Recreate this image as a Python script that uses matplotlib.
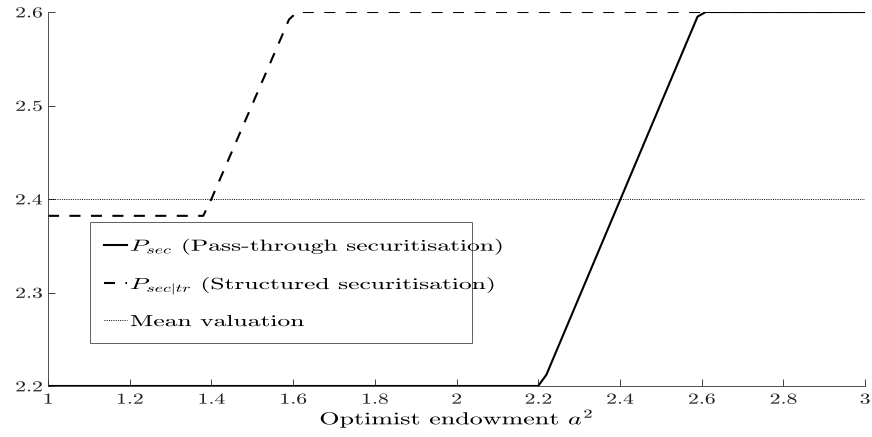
import matplotlib
matplotlib.use('Agg')
import matplotlib.pyplot as plt
from matplotlib.patheffects import AbstractPathEffect
from matplotlib.transforms import Affine2D

a2_pass = [1.0, 2.2, 2.22, 2.59, 2.61, 3.0]
p_pass = [2.2, 2.2, 2.212, 2.595, 2.6, 2.6]

a2_struct = [1.0, 1.38, 1.40, 1.59, 1.61, 3.0]
p_struct = [2.382, 2.382, 2.40, 2.592, 2.6, 2.6]

mean_val = 2.4

xticks = [1, 1.2, 1.4, 1.6, 1.8, 2, 2.2, 2.4, 2.6, 2.8, 3]
xticklabels = ['1', '1.2', '1.4', '1.6', '1.8', '2', '2.2', '2.4', '2.6', '2.8', '3']
yticks = [2.2, 2.3, 2.4, 2.5, 2.6]
yticklabels = ['2.2', '2.3', '2.4', '2.5', '2.6']

plt.rcParams['font.family'] = ['cmr10', 'DejaVu Serif']
plt.rcParams['mathtext.fontset'] = 'cm'
plt.rcParams['axes.formatter.use_mathtext'] = True


class Stretch(AbstractPathEffect):
    '''widen text glyphs horizontally (the original has wide letter spacing)'''
    def __init__(self, sx, align='left'):
        super().__init__()
        self.sx = sx
        self.k = {'left': 0.0, 'center': 0.5, 'right': 1.0}[align]

    def draw_path(self, renderer, gc, tpath, affine, rgbFace=None):
        w = tpath.get_extents().x1
        pre = Affine2D().translate(-self.k * w, 0).scale(self.sx, 1).translate(self.k * w, 0)
        renderer.draw_path(gc, tpath, pre + affine, rgbFace)


fig = plt.figure(figsize=(8.72, 4.37), dpi=100)
ax = fig.add_axes([48 / 872, 1 - 386 / 437, 817 / 872, 374 / 437])

ax.plot(a2_pass, p_pass, color='black', lw=1.5, solid_joinstyle='round',
        label=r'$P_{sec}$ (Pass-through securitisation)')
ax.plot(a2_struct, p_struct, color='black', lw=1.5, linestyle=(0, (5.3, 5)),
        label=r'$P_{sec|tr}$ (Structured securitisation)')
ax.axhline(mean_val, color='black', lw=0.7, linestyle=(0, (1, 1.3)),
           label='Mean valuation')

ax.set_xlim(1, 3)
ax.set_ylim(2.2, 2.6)
ax.set_xticks(xticks)
ax.set_xticklabels(xticklabels)
ax.set_yticks(yticks)
ax.set_yticklabels(yticklabels)

for s in ['top', 'right']:
    ax.spines[s].set_visible(False)
for s in ['left', 'bottom']:
    ax.spines[s].set_linewidth(0.6)
    ax.spines[s].set_color('#333333')

ax.tick_params(direction='in', length=5, width=0.6, labelsize=11, colors='#222222')
ax.tick_params(axis='x', pad=5)
ax.tick_params(axis='y', pad=4)
for t in ax.get_xticklabels():
    t.set_path_effects([Stretch(1.42, 'center')])
for t in ax.get_yticklabels():
    t.set_path_effects([Stretch(1.42, 'right')])

xl = ax.set_xlabel(r'Optimist endowment $a^2$', fontsize=12.5, labelpad=0)
xl.set_path_effects([Stretch(1.5, 'center')])

leg = ax.legend(loc='upper left', mode='expand',
                bbox_to_anchor=(42 / 817, 1 - 214 / 374, 382 / 817, 0.01),
                fontsize=11.5, handlelength=1.4, handletextpad=0.2,
                borderaxespad=0, borderpad=0.9, labelspacing=1.2,
                fancybox=False, framealpha=1, edgecolor='#444444')
leg.get_frame().set_linewidth(0.6)
for t in leg.get_texts():
    t.set_path_effects([Stretch(1.6, 'left')])

fig.savefig('out.png', dpi=100)
